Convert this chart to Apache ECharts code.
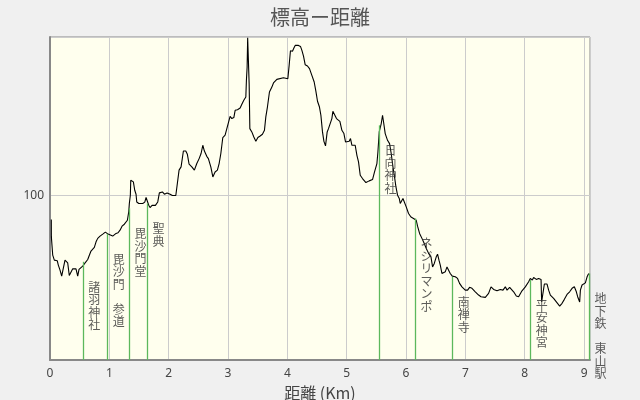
<!DOCTYPE html>
<html><head><meta charset="utf-8">
<script src="https://cdn.jsdelivr.net/npm/echarts@6/dist/echarts.min.js"></script>
<style>html,body{margin:0;padding:0;background:#f0f0f0}#c{width:640px;height:400px}</style>
</head><body><div id="c"></div>
<script>
// distance (km) along the route
var distKm = [0.022,0.023,0.046,0.073,0.123,0.140,0.169,0.197,0.224,0.253,0.275,0.298,0.325,0.354,0.383,0.410,0.438,0.467,0.489,0.518,0.551,0.585,0.607,0.636,0.663,0.691,0.720,0.747,0.776,0.804,0.843,0.889,0.933,0.961,0.978,0.990,1.057,1.113,1.147,1.180,1.214,1.253,1.282,1.304,1.327,1.337,1.354,1.361,1.383,1.405,1.428,1.450,1.462,1.496,1.563,1.597,1.619,1.636,1.664,1.686,1.720,1.776,1.816,1.843,1.855,1.894,1.928,1.973,2.024,2.062,2.120,2.147,2.175,2.209,2.248,2.288,2.315,2.344,2.390,2.433,2.474,2.513,2.546,2.575,2.602,2.642,2.669,2.710,2.744,2.782,2.821,2.850,2.879,2.912,2.951,2.980,3.007,3.035,3.064,3.098,3.120,3.159,3.204,3.233,3.266,3.300,3.310,3.322,3.331,3.344,3.356,3.368,3.401,3.435,3.469,3.503,3.541,3.580,3.614,3.637,3.664,3.698,3.739,3.766,3.794,3.823,3.850,3.934,4.008,4.030,4.052,4.086,4.110,4.132,4.187,4.221,4.245,4.272,4.300,4.339,4.373,4.413,4.452,4.481,4.508,4.541,4.565,4.592,4.616,4.643,4.671,4.693,4.722,4.750,4.767,4.794,4.828,4.852,4.885,4.919,4.953,4.980,5.008,5.042,5.064,5.088,5.121,5.143,5.172,5.199,5.228,5.266,5.324,5.379,5.435,5.469,5.509,5.526,5.548,5.582,5.604,5.621,5.649,5.688,5.722,5.750,5.779,5.806,5.830,5.857,5.886,5.902,5.931,5.948,5.975,6.003,6.042,6.083,6.126,6.172,6.194,6.228,6.268,6.307,6.341,6.380,6.420,6.447,6.476,6.509,6.531,6.555,6.577,6.605,6.632,6.661,6.690,6.717,6.745,6.779,6.830,6.868,6.902,6.942,6.998,7.037,7.071,7.111,7.167,7.223,7.263,7.336,7.391,7.432,7.476,7.533,7.589,7.634,7.673,7.702,7.746,7.779,7.813,7.858,7.897,7.954,8.010,8.066,8.094,8.128,8.150,8.196,8.234,8.275,8.285,8.309,8.331,8.376,8.403,8.432,8.487,8.533,8.589,8.629,8.668,8.713,8.757,8.798,8.836,8.870,8.892,8.926,8.938,8.966,8.993,9.022,9.051,9.078,9.089];
// elevation (m)
var elevM = [85.3,74.7,63.6,60.6,60.2,57.6,54.5,50.9,55.6,60.6,61.6,59.0,51.3,52.5,55.3,55.8,55.3,50.9,55.0,55.8,57.0,58.6,59.6,61.0,63.6,66.1,66.7,68.3,71.7,73.8,75.2,76.4,77.6,78.2,76.4,75.2,75.2,76.8,77.2,78.8,81.2,82.4,83.2,84.8,89.9,95.0,100.0,109.1,109.5,108.1,103.0,100.6,95.9,95.0,95.0,95.8,98.6,98.2,93.9,92.5,93.8,93.8,95.9,101.4,102.0,102.0,100.6,101.4,100.6,99.8,99.8,101.0,115.2,117.2,126.8,126.8,124.8,118.8,117.2,115.2,119.2,122.2,125.3,130.3,126.8,123.6,122.2,117.2,111.1,114.1,115.2,119.2,125.3,135.0,136.4,140.4,141.4,147.9,146.5,147.1,151.5,151.9,152.9,155.2,157.6,159.6,169.7,177.8,195.6,195.6,167.7,140.4,138.4,135.3,132.7,135.0,135.9,137.0,139.4,147.5,153.5,162.6,165.6,168.1,168.7,170.3,171.3,171.3,170.7,178.8,187.7,187.3,189.3,190.9,190.9,190.3,187.9,184.4,179.2,178.4,176.8,172.7,168.7,163.0,157.0,153.5,148.5,138.4,132.7,129.9,138.4,140.4,141.4,146.5,150.9,150.9,146.5,145.6,144.8,139.4,137.4,132.3,131.3,132.7,134.4,130.3,131.3,130.3,124.2,120.2,112.1,110.1,107.7,108.7,109.5,114.1,119.2,126.2,138.4,143.5,148.5,144.4,137.4,133.3,131.3,125.3,117.2,111.1,105.0,100.0,98.0,95.0,95.9,98.0,97.4,92.9,88.9,86.8,85.9,84.8,81.2,76.8,73.8,70.7,67.7,64.7,62.6,56.5,58.6,62.6,64.2,60.6,57.6,52.5,52.1,53.5,56.5,55.6,52.5,50.9,50.5,49.5,46.5,44.4,42.4,42.4,44.1,43.5,41.4,39.4,38.4,38.0,40.4,44.4,42.8,42.0,42.8,42.4,44.4,42.4,44.1,44.8,41.4,38.8,38.4,42.0,44.4,47.5,49.5,48.5,50.1,48.9,49.5,48.9,35.3,36.4,46.1,46.1,42.4,39.4,37.4,35.3,32.7,34.4,36.8,39.8,41.4,43.5,44.4,41.4,38.4,35.2,42.4,45.5,46.5,46.8,50.5,52.5,52.5];
// landmarks
var markerNames = ['諸羽神社','毘沙門　参道','毘沙門堂','聖典','日向神社','ネジリマンポ','南禅寺','平安神宮','地下鉄　東山駅'];
var markerKm = [0.562,0.973,1.338,1.641,5.553,6.161,6.785,8.100,9.090];
var markerElev = [59.6,76.5,92.0,95.0,142.4,85.9,50.5,48.5,52.5];
var xTicks = [0,1,2,3,4,5,6,7,8,9];
var yTickLabel = 100;

var profile = distKm.map(function(d,i){return [d, elevM[i]];});
var chart = echarts.init(document.getElementById('c'), null, {renderer:'canvas'});
var cjk = '"Noto Sans CJK JP", "Noto Sans", sans-serif';
chart.setOption({
  animation:false,
  backgroundColor:'#f0f0f0',
  title:{text:'標高ー距離', left:'center', top:2, textStyle:{fontFamily:cjk, fontSize:20, fontWeight:'normal', color:'#555'}},
  grid:{left:50, right:50, top:37, bottom:40, outerBoundsMode:'none', containLabel:false, show:true, backgroundColor:'#ffffee', borderColor:'#888', borderWidth:1},
  xAxis:{type:'value', min:0, max:9.1, interval:1,
    name:'距離 (Km)', nameLocation:'middle', nameGap:21,
    nameTextStyle:{fontFamily:cjk, fontSize:16, color:'#444'},
    axisLine:{show:true, lineStyle:{color:'#888', width:2}},
    axisTick:{show:false},
    axisLabel:{margin:8, color:'#444', fontSize:12, fontFamily:'"Noto Sans", sans-serif', showMaxLabel:false,
      formatter:function(v){return xTicks.indexOf(v)>=0 ? String(v) : '';}},
    splitLine:{show:true, lineStyle:{color:'#cccccc', width:1}}},
  yAxis:{type:'value', min:0, max:196, interval:100,
    axisLine:{show:true, lineStyle:{color:'#888', width:2}},
    axisTick:{show:false},
    axisLabel:{margin:6, color:'#444', fontSize:12, fontFamily:'"Noto Sans", sans-serif',
      formatter:function(v){return v===yTickLabel ? String(v) : '';}},
    splitLine:{show:true, lineStyle:{color:'#cccccc', width:1}}},
  series:[
    {type:'line', data:profile, showSymbol:false, symbol:'none', z:3,
     lineStyle:{color:'#000', width:1.1},
     markLine:{silent:true, symbol:['none','none'], animation:false,
       lineStyle:{color:'#5cb85c', type:'solid', width:1.3},
       label:{show:false},
       data: markerKm.map(function(k,i){return [{coord:[k,0]},{coord:[k,markerElev[i]]}];})}},
    {type:'scatter', symbolSize:0, z:4,
     data: markerKm.map(function(k,i){return {name:markerNames[i], value:[k, markerElev[i]]};}),
     label:{show:true, position:'bottom', distance:5, offset:[5,14], align:'left', verticalAlign:'top',
       fontFamily:cjk, fontSize:12, lineHeight:12.5, color:'#333',
       formatter:function(p){return p.name.split('').join('\n');}}}
  ]
});
</script></body></html>
